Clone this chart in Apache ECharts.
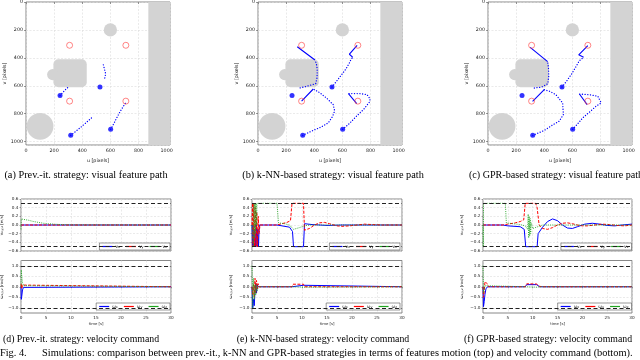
<!DOCTYPE html>
<html>
<head>
<meta charset="utf-8">
<script src="https://cdn.jsdelivr.net/npm/echarts@6/dist/echarts.min.js"></script>
<style>
html, body { margin: 0; padding: 0; background: #fff; }
#chart { width: 640px; height: 360px; }
</style>
</head>
<body>
<div id="chart"></div>
<script>
// ---------- data: image plane (pixels) ----------
const targets = [[310, 310], [710, 310], [310, 710], [710, 710]];
const starts = [[242, 670], [526, 609], [318, 955], [602, 912]];
// obstacles: circles [u, v, r], rounded block [u0, v0, u1, v1], wall [u0, v0, u1, v1]
const circleObstacles = [[600, 200, 47], [100, 890, 95], [190, 520, 40]];
const blockObstacle = [[195, 410, 432, 610]];
const wallObstacle = [[870, 0, 1024, 1024]];

// prev.-it. strategy
const aDotted = [
  [[242, 670], [258, 652], [272, 637], [286, 622], [300, 610]],
  [[550, 450], [558, 480], [566, 512], [562, 540], [552, 560]],
  [[318, 955], [355, 925], [392, 895], [430, 862], [467, 829]],
  [[602, 912], [625, 870], [650, 820], [675, 775], [700, 735], [716, 711]]
];
const aSolid = [];
// k-NN strategy
const bDotted = [
  [[300, 615], [360, 600], [410, 585], [420, 540], [421, 480], [415, 440], [405, 415]],
  [[526, 609], [560, 565], [595, 520], [625, 480], [648, 440], [662, 410], [674, 396]],
  [[318, 955], [380, 925], [450, 895], [500, 865], [530, 820], [545, 780], [535, 735], [490, 690], [440, 650], [393, 623]],
  [[602, 912], [650, 870], [700, 818], [750, 770], [790, 720], [798, 695], [775, 663], [725, 656], [643, 656]]
];
const bSolid = [
  [[405, 415], [279, 320]],
  [[674, 396], [650, 374], [705, 310]],
  [[393, 623], [310, 710]],
  [[643, 656], [702, 727]]
];
// GPR strategy
const cDotted = [
  [[329, 616], [380, 610], [425, 585], [432, 530], [430, 470], [424, 427]],
  [[526, 609], [560, 565], [595, 515], [626, 462], [650, 420], [680, 395]],
  [[318, 955], [400, 920], [460, 880], [507, 853], [536, 806], [531, 723], [483, 664], [440, 640], [400, 628]],
  [[602, 912], [640, 870], [674, 829], [725, 785], [769, 746], [805, 723], [781, 675], [721, 664], [650, 659]]
];
const cSolid = [
  [[424, 427], [300, 325]],
  [[680, 395], [645, 378], [710, 312]],
  [[400, 628], [317, 711]],
  [[650, 659], [705, 735]]
];

// ---------- data: velocity commands [time s, value] ----------
const vLimits = [0.5, -0.5];
const wLimits = [1.0, -1.0];
const wTicks = [-1.0, -0.5, 0.0, 0.5, 1.0];

// (d) prev.-it.
const dVx = [[0, 0], [0.1, -0.02], [0.3, 0], [30, 0]];
const dVy = [[0, 0], [30, 0]];
const dVz = [[0, -0.1], [0.05, 0.14], [0.5, 0.13], [1.5, 0.11], [2.5, 0.08], [3.5, 0.06], [4.5, 0.04], [5.5, 0.03], [6.5, 0.02], [8, 0.01], [10, 0.003], [30, 0]];
const dWx = [[0, 0], [0.05, -0.6], [0.15, -0.45], [0.3, -0.15], [0.5, -0.03], [0.8, 0], [30, 0]];
const dWy = [[0, 0], [0.05, 0.15], [0.15, -0.1], [0.3, 0.08], [0.5, 0], [30, 0]];
const dWz = [[0, 0], [0.05, 0.8], [0.15, 0.5], [0.3, 0.2], [0.5, 0.05], [0.8, 0], [30, 0]];

// (e) k-NN
const eVx = [[0, 0], [0.1, -0.5], [0.2, 0], [0.35, -0.5], [0.5, -0.1], [0.7, -0.5], [0.85, 0], [1.0, -0.5], [1.15, -0.1], [1.3, -0.5], [1.45, 0], [5, 0], [5.3, -0.04], [7.5, -0.05], [7.8, -0.07], [8.1, -0.15], [8.3, -0.5], [10.3, -0.5], [10.5, 0.03], [12, 0.01], [15, -0.01], [18, 0], [30, 0]];
const eVy = [[0, 0], [0.1, 0.5], [0.2, -0.5], [0.35, 0.5], [0.5, -0.5], [0.65, 0.4], [0.8, -0.5], [0.95, 0.3], [1.1, -0.5], [1.25, 0.2], [1.4, -0.2], [1.6, 0], [5, 0], [6, 0.03], [7, 0.06], [7.7, 0.1], [8.0, 0.5], [10.3, 0.5], [10.5, -0.12], [11.5, -0.08], [12.5, 0], [13.5, 0.05], [14.5, 0.06], [15.5, 0.03], [17, -0.02], [18, -0.03], [19.5, -0.02], [21, 0], [22.5, 0.02], [24, 0.01], [26, 0], [30, 0]];
const eVz = [[0, 0], [0.2, 0], [0.3, -0.5], [0.4, 0.5], [0.5, -0.3], [0.6, 0.5], [0.7, -0.2], [0.8, 0.5], [0.9, 0], [1.0, 0.5], [5.0, 0.5], [5.3, 0.05], [6.5, 0.03], [7.5, 0.0], [8.3, -0.1], [8.6, -0.12], [9.5, -0.06], [10.5, -0.02], [11.5, 0], [30, 0]];
const eWx = [[0, 0], [0.15, -1.0], [0.3, -0.6], [0.45, -0.9], [0.6, -0.2], [0.75, 0.15], [0.9, -0.3], [1.05, 0.1], [1.25, 0], [8, 0], [8.2, 0.07], [10.3, 0.07], [10.5, 0], [30, 0]];
const eWy = [[0, 0], [0.15, -0.4], [0.3, 0.1], [0.45, -0.5], [0.6, 0.4], [0.75, -0.3], [0.9, 0.3], [1.05, -0.1], [1.2, 0.15], [1.4, 0], [8, 0], [8.2, 0.12], [10.3, 0.12], [10.5, 0], [30, 0]];
const eWz = [[0, 1.0], [0.15, -1.0], [0.3, 0.4], [0.45, -0.6], [0.6, 0.1], [0.75, -0.4], [0.9, 0.1], [1.05, -0.2], [1.25, 0], [8, 0], [8.2, -0.02], [10.3, -0.02], [10.5, 0], [30, 0]];

// (f) GPR
const fVx = [[0, 0], [4, 0], [5, -0.02], [7.5, -0.04], [8.3, -0.1], [8.6, -0.5], [10.9, -0.5], [11.1, -0.2], [12, -0.05], [13, 0.08], [14, 0.14], [15, 0.1], [16, 0.0], [17, -0.07], [18, -0.08], [19, -0.04], [20.5, 0.02], [22, 0.04], [23.5, 0.02], [25, -0.01], [26.5, -0.02], [28, 0], [30, 0.02]];
const fVy = [[0, 0], [4, 0], [5, 0.02], [6.5, 0.05], [7.5, 0.08], [8.2, 0.12], [8.5, 0.5], [10.6, 0.5], [10.9, 0.4], [11.3, 0.0], [12, -0.08], [13, -0.1], [14, -0.06], [15, 0.0], [16, 0.04], [17, 0.05], [18, 0.03], [19, 0.0], [20, -0.02], [21, -0.02], [22.5, 0.0], [24, 0.02], [25.5, 0.01], [27, -0.01], [28.5, -0.02], [30, 0]];
const fVz = [[0, 0], [0.05, -0.5], [0.1, 0.5], [4.5, 0.5], [4.7, 0.05], [6, 0.03], [7.5, 0.01], [8.5, -0.02], [9.0, -0.1], [9.1, 0.25], [9.2, -0.3], [9.3, 0.2], [9.4, -0.25], [9.5, 0.15], [9.6, -0.2], [9.7, 0.05], [10.0, -0.08], [11, -0.04], [12, 0], [30, 0]];
const fWx = [[0, 0], [0.1, -0.95], [0.25, -0.7], [0.4, -0.35], [0.6, -0.1], [0.9, 0], [8.5, 0], [8.8, 0.1], [10.8, 0.1], [11.4, 0], [30, 0]];
const fWy = [[0, 0], [0.1, -0.5], [0.25, -0.2], [0.4, 0.25], [0.6, 0.33], [0.8, 0.15], [1.1, 0], [8.5, 0], [8.8, 0.14], [10.8, 0.13], [11.4, 0.02], [12, 0], [30, 0]];
const fWz = [[0, 1.0], [0.1, -0.3], [0.25, -0.1], [0.4, 0.05], [0.6, 0], [8.5, 0], [8.8, -0.02], [10.8, -0.02], [11.4, 0], [30, 0]];

const captions = [
  '(a) Prev.-it. strategy: visual feature path',
  '(b) k-NN-based strategy: visual feature path',
  '(c) GPR-based strategy: visual feature path',
  '(d) Prev.-it. strategy: velocity command',
  '(e) k-NN-based strategy: velocity command',
  '(f) GPR-based strategy: velocity command'
];
const figLabel = 'Fig. 4.';
const figText = 'Simulations: comparison between prev.-it., k-NN and GPR-based strategies in terms of features motion (top) and velocity command (bottom).';

// ---------- layout ----------
const grids = [
  { left: 26, top: 2, width: 144, height: 143 },
  { left: 258, top: 2, width: 144, height: 143 },
  { left: 488, top: 2, width: 144, height: 143 },
  { left: 21, top: 199, width: 150, height: 52 },
  { left: 252, top: 199, width: 150, height: 52 },
  { left: 483, top: 199, width: 149, height: 52 },
  { left: 21, top: 260.5, width: 150, height: 52.5 },
  { left: 252, top: 260.5, width: 150, height: 52.5 },
  { left: 483, top: 260.5, width: 149, height: 52.5 }
].map(g => Object.assign(g, { show: true, borderColor: '#7a7a7a', borderWidth: 0.9, backgroundColor: 'transparent', containLabel: false, outerBoundsMode: 'none' }));

const tickFont = { fontFamily: 'DejaVu Sans', color: '#222' };
const splitStyle = { show: true, lineStyle: { color: '#dcdcdc', type: [2, 1.5], width: 0.6 } };
const BLUE = '#0000ff', RED = '#ff0000', GREEN = '#1fa51f';

const xAxes = [], yAxes = [];
for (let i = 0; i < 3; i++) {
  xAxes.push({
    gridIndex: i, type: 'value', min: 0, max: 1024, interval: 200,
    axisLine: { show: false }, axisTick: { show: true, length: 2, lineStyle: { color: '#555', width: 0.6 } },
    axisLabel: Object.assign({ fontSize: 4.8, margin: 3, showMaxLabel: false, formatter: v => String(v) }, tickFont),
    splitLine: splitStyle,
    name: 'u [pixels]', nameLocation: 'middle', nameGap: 13,
    nameTextStyle: Object.assign({ fontSize: 4.8 }, tickFont)
  });
  yAxes.push({
    gridIndex: i, type: 'value', min: 0, max: 1024, interval: 200, inverse: true,
    axisLine: { show: false }, axisTick: { show: true, length: 2, lineStyle: { color: '#555', width: 0.6 } },
    axisLabel: Object.assign({ fontSize: 4.8, margin: 3, showMaxLabel: false, formatter: v => String(v) }, tickFont),
    splitLine: splitStyle,
    name: 'v [pixels]', nameLocation: 'middle', nameGap: 19,
    nameTextStyle: Object.assign({ fontSize: 4.8 }, tickFont)
  });
}
for (let i = 3; i < 9; i++) {
  const bottom = i >= 6;
  xAxes.push({
    gridIndex: i, type: 'value', min: 0, max: 30, interval: 5,
    axisLine: { show: false }, axisTick: { show: bottom, length: 1.5, lineStyle: { color: '#555', width: 0.5 } },
    axisLabel: Object.assign({ show: bottom, fontSize: 4.2, margin: 2.5 }, tickFont),
    splitLine: splitStyle,
    name: bottom ? 'time [s]' : '', nameLocation: 'middle', nameGap: 9,
    nameTextStyle: Object.assign({ fontSize: 3.8 }, tickFont)
  });
  const yName = bottom ? '{m|ω}{s|x,y,z} [rad/s]' : '{m|v}{s|x,y,z} [m/s]';
  const y = {
    gridIndex: i, type: 'value',
    axisLine: { show: false }, axisTick: { show: true, length: 1.5, lineStyle: { color: '#555', width: 0.5 } },
    axisLabel: Object.assign({ fontSize: 4.2, margin: 2.5,
      formatter: v => (Math.abs(v) < 1e-9 ? '0.0' : (v < 0 ? '\u2212' : '') + Math.abs(v).toFixed(1)) }, tickFont),
    splitLine: splitStyle,
    name: yName, nameLocation: 'middle', nameGap: i % 3 === 0 ? 17 : 19,
    nameTextStyle: Object.assign({ fontSize: 3.8,
      rich: { m: { fontSize: 4, fontFamily: 'DejaVu Sans' }, s: { fontSize: 3, fontFamily: 'DejaVu Sans', verticalAlign: 'bottom' } } }, tickFont)
  };
  if (bottom) {
    y.min = -1.25; y.max = 1.25;
    y.axisLabel.customValues = wTicks;
    y.axisTick.customValues = wTicks;
  } else {
    y.min = -0.6; y.max = 0.6; y.interval = 0.2;
  }
  yAxes.push(y);
}

// ---------- series builders ----------
function joinPaths(paths) {
  const out = [];
  paths.forEach((p, k) => { if (k) out.push(['-', '-']); p.forEach(pt => out.push(pt)); });
  return out;
}
const GRAY = '#d3d3d3';
function obstacleSeries(gi) {
  return [
    { type: 'custom', xAxisIndex: gi, yAxisIndex: gi, silent: true, clip: true, z: 1, data: wallObstacle,
      renderItem: (p, api) => {
        const a = api.coord([api.value(0), api.value(1)]), b = api.coord([api.value(2), api.value(3)]);
        return { type: 'rect', shape: { x: a[0], y: Math.min(a[1], b[1]), width: b[0] - a[0], height: Math.abs(b[1] - a[1]) }, style: { fill: GRAY } };
      } },
    { type: 'custom', xAxisIndex: gi, yAxisIndex: gi, silent: true, clip: true, z: 1, data: blockObstacle,
      renderItem: (p, api) => {
        const a = api.coord([api.value(0), api.value(1)]), b = api.coord([api.value(2), api.value(3)]);
        return { type: 'rect', shape: { x: a[0], y: a[1], width: b[0] - a[0], height: b[1] - a[1], r: 5 }, style: { fill: GRAY } };
      } },
    { type: 'custom', xAxisIndex: gi, yAxisIndex: gi, silent: true, clip: true, z: 1, data: circleObstacles,
      renderItem: (p, api) => {
        const c = api.coord([api.value(0), api.value(1)]);
        const s = api.size([api.value(2), api.value(2)]);
        return { type: 'circle', shape: { cx: c[0], cy: c[1], r: Math.abs(s[0]) }, style: { fill: GRAY } };
      } }
  ];
}
function pathPanel(gi, dotted, solid) {
  return obstacleSeries(gi).concat([
    { type: 'line', xAxisIndex: gi, yAxisIndex: gi, data: joinPaths(dotted), symbol: 'none', z: 3,
      lineStyle: { color: BLUE, width: 1.3, type: [0.1, 2.6], cap: 'round' } },
    { type: 'line', xAxisIndex: gi, yAxisIndex: gi, data: joinPaths(solid), symbol: 'none', z: 3,
      lineStyle: { color: BLUE, width: 1.1 } },
    { type: 'scatter', xAxisIndex: gi, yAxisIndex: gi, data: targets, symbolSize: 6, z: 4,
      itemStyle: { color: 'rgba(0,0,0,0)', borderColor: '#ff4040', borderWidth: 0.8 } },
    { type: 'scatter', xAxisIndex: gi, yAxisIndex: gi, data: starts, symbolSize: 5, z: 4,
      itemStyle: { color: BLUE } }
  ]);
}
function velPanel(gi, names, sx, sy, sz, limits) {
  return [
    { name: names[0], type: 'line', xAxisIndex: gi, yAxisIndex: gi, data: sx, symbol: 'none', z: 3,
      lineStyle: { color: BLUE, width: 1 }, itemStyle: { color: BLUE },
      markLine: { silent: true, symbol: ['none', 'none'], label: { show: false }, animation: false,
        lineStyle: { color: '#222', type: [4, 2.5], width: 1 }, data: limits.map(v => ({ yAxis: v })) } },
    { name: names[1], type: 'line', xAxisIndex: gi, yAxisIndex: gi, data: sy, symbol: 'none', z: 3,
      lineStyle: { color: RED, width: 1, type: [3, 1.5] }, itemStyle: { color: RED } },
    { name: names[2], type: 'line', xAxisIndex: gi, yAxisIndex: gi, data: sz, symbol: 'none', z: 3,
      lineStyle: { color: GREEN, width: 0.9, type: [1, 1.2] }, itemStyle: { color: GREEN } }
  ];
}
const vNames = ['vx', 'vy', 'vz'], wNames = ['wx', 'wy', 'wz'];

const series = [].concat(
  pathPanel(0, aDotted, aSolid),
  pathPanel(1, bDotted, bSolid),
  pathPanel(2, cDotted, cSolid),
  velPanel(3, vNames, dVx, dVy, dVz, vLimits),
  velPanel(4, vNames, eVx, eVy, eVz, vLimits),
  velPanel(5, vNames, fVx, fVy, fVz, vLimits),
  velPanel(6, wNames, dWx, dWy, dWz, wLimits),
  velPanel(7, wNames, eWx, eWy, eWz, wLimits),
  velPanel(8, wNames, fWx, fWy, fWz, wLimits)
);

const legendPos = [
  [vNames, 470, 110], [vNames, 240, 110], [vNames, 8.5, 110],
  [wNames, 470, 50], [wNames, 240, 50], [wNames, 8.5, 50]
];
const legends = legendPos.map(([names, r, b]) => ({
  data: names.map(n => ({ name: n, icon: 'rect' })), right: r, bottom: b, orient: 'horizontal',
  itemWidth: 10, itemHeight: 1.2, itemGap: 6, padding: [1.5, 3],
  backgroundColor: '#fff', borderColor: '#555', borderWidth: 0.6,
  selectedMode: false,
  formatter: n => '{m|' + (n[0] === 'v' ? 'v' : 'ω') + '}{s|' + n[1] + '}',
  textStyle: { fontSize: 4.2, color: '#222', padding: [0, 0, 0, -2],
    rich: { m: { fontSize: 4.4, fontFamily: 'DejaVu Sans' }, s: { fontSize: 3.4, fontFamily: 'DejaVu Sans', verticalAlign: 'bottom' } } }
}));

const capPos = [[86, 175, 10.3], [333, 175, 10.3], [556, 175, 10.1], [81, 339, 9.8], [323, 339, 9.8], [548, 339, 9.8]];
const serif = '"Liberation Serif", "Times New Roman", serif';
const graphics = captions.map((t, k) => ({
  type: 'text', x: capPos[k][0], y: capPos[k][1], silent: true,
  style: { text: t, fill: '#000', font: capPos[k][2] + 'px ' + serif, textAlign: 'center', textVerticalAlign: 'middle' }
})).concat([
  { type: 'text', x: 0, y: 353, silent: true, style: { text: figLabel, fill: '#000', font: '10.3px ' + serif, textVerticalAlign: 'middle' } },
  { type: 'text', x: 42, y: 353, silent: true, style: { text: figText, fill: '#000', font: '10.4px ' + serif, textVerticalAlign: 'middle' } }
]);

const chart = echarts.init(document.getElementById('chart'), null, { renderer: 'canvas' });
chart.setOption({
  animation: false,
  backgroundColor: '#fff',
  grid: grids,
  xAxis: xAxes,
  yAxis: yAxes,
  legend: legends,
  series: series,
  graphic: graphics
});
</script>
</body>
</html>
